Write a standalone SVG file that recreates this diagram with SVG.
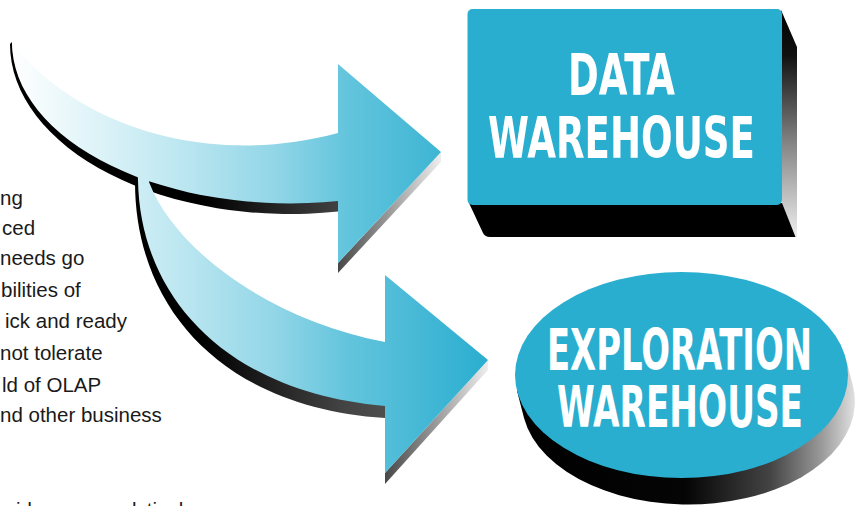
<svg xmlns="http://www.w3.org/2000/svg" width="857" height="506" viewBox="0 0 857 506">
  <defs>
    <linearGradient id="arrowGrad" gradientUnits="userSpaceOnUse" x1="12" y1="0" x2="488" y2="0">
      <stop offset="0" stop-color="#ffffff"/>
      <stop offset="0.15" stop-color="#e3f5f9"/>
      <stop offset="0.35" stop-color="#bde7f1"/>
      <stop offset="0.55" stop-color="#92d6e7"/>
      <stop offset="0.7" stop-color="#64c5dd"/>
      <stop offset="0.85" stop-color="#47b9d6"/>
      <stop offset="1" stop-color="#2aaed0"/>
    </linearGradient>
    <linearGradient id="shaftShadow" gradientUnits="userSpaceOnUse" x1="12" y1="0" x2="488" y2="0">
      <stop offset="0" stop-color="#000000"/>
      <stop offset="0.4" stop-color="#000000"/>
      <stop offset="0.7" stop-color="#444444"/>
      <stop offset="1" stop-color="#666666"/>
    </linearGradient>
    <linearGradient id="headShadow" x1="1" y1="0" x2="0" y2="0">
      <stop offset="0" stop-color="#eeeeee"/>
      <stop offset="1" stop-color="#484848"/>
    </linearGradient>
    <linearGradient id="sideGrad" x1="0" y1="0" x2="0" y2="1">
      <stop offset="0" stop-color="#000000"/>
      <stop offset="0.2" stop-color="#111111"/>
      <stop offset="0.6" stop-color="#888888"/>
      <stop offset="1" stop-color="#eeeeee"/>
    </linearGradient>
    <linearGradient id="discGrad" x1="0" y1="0" x2="1" y2="0">
      <stop offset="0" stop-color="#000000"/>
      <stop offset="0.5" stop-color="#050505"/>
      <stop offset="0.75" stop-color="#444444"/>
      <stop offset="0.9" stop-color="#999999"/>
      <stop offset="1" stop-color="#e0e0e0"/>
    </linearGradient>
    <style>
      .body { font-family: "Liberation Sans", Arial, sans-serif; font-size: 20.5px; fill: #1a1a1a; }
      .title { font-family: "Liberation Sans Narrow", "DejaVu Sans Condensed", "Liberation Sans", sans-serif; font-weight: bold; font-size: 57px; fill: #ffffff; }
      .face { fill: #29aecf; }
    </style>
  </defs>

  <g id="body-text">
    <text class="body" x="0" y="205">ng</text>
    <text class="body" x="2" y="235">ced</text>
    <text class="body" x="0" y="265">needs go</text>
    <text class="body" x="1" y="297">bilities of</text>
    <text class="body" x="5" y="328">ick and ready</text>
    <text class="body" x="0" y="360">not tolerate</text>
    <text class="body" x="2" y="391.5">ld of OLAP</text>
    <text class="body" x="0" y="422">nd other business</text>
    <text class="body" x="16" y="516.5" word-spacing="5">ides an analytical</text>
  </g>

  <g id="connectors">
    <!-- shadows -->
    <path d="M 10,44 A 280 170 0 0 0 338,211.5 L 338,196 A 278 161 0 0 1 12,42 Z" fill="url(#shaftShadow)"/>
    <polygon points="441,152 441,162 338,273 338,263" fill="url(#headShadow)"/>
    <path d="M 135,182 C 135,310 225,408 385,418 L 385,398 C 230,388 145,300 141,182 Z" fill="url(#shaftShadow)"/>
    <polygon points="488,360 488,370 385,484 385,473" fill="url(#headShadow)"/>
    <!-- lower arrow -->
    <path id="arrow-exploration" d="M 137,168 L 138,180 C 140,300 230,393 385,406 L 385,473 L 488,360 L 385,275 L 385,342 C 270,320 175,250 149,182 L 151,168 Z" fill="url(#arrowGrad)"/>
    <!-- upper arrow -->
    <path id="arrow-data" d="M 12,42 A 278 161 0 0 0 338,201 L 338,263 L 441,152 L 338,64 L 338,133 C 200,170 70,120 12,42 Z" fill="url(#arrowGrad)"/>
  </g>

  <g id="data-warehouse">
    <path d="M 781,10 L 797,47 L 797,237 L 795,237 L 782,205 Z" fill="url(#sideGrad)"/>
    <path d="M 469,203 L 782,203 L 795.5,237 L 490,237 Q 485,237 483,233 Z" fill="#000000"/>
    <rect class="face" x="467.5" y="9" width="314.5" height="196" rx="5"/>
    <text class="title" x="568" y="95" textLength="107" lengthAdjust="spacingAndGlyphs">DATA</text>
    <text class="title" x="488" y="158" textLength="267" lengthAdjust="spacingAndGlyphs">WAREHOUSE</text>
  </g>

  <g id="exploration-warehouse">
    <path d="M 517.1,391.3 L 524.1,418.3 A 166.5 103 0 0 0 852.9,385.7 L 845.9,358.7 Z" fill="url(#discGrad)"/>
    <ellipse class="face" cx="681.5" cy="375" rx="166.5" ry="103"/>
    <text class="title" x="547" y="370" textLength="265" lengthAdjust="spacingAndGlyphs">EXPLORATION</text>
    <text class="title" x="557" y="427" textLength="246" lengthAdjust="spacingAndGlyphs">WAREHOUSE</text>
  </g>
</svg>
